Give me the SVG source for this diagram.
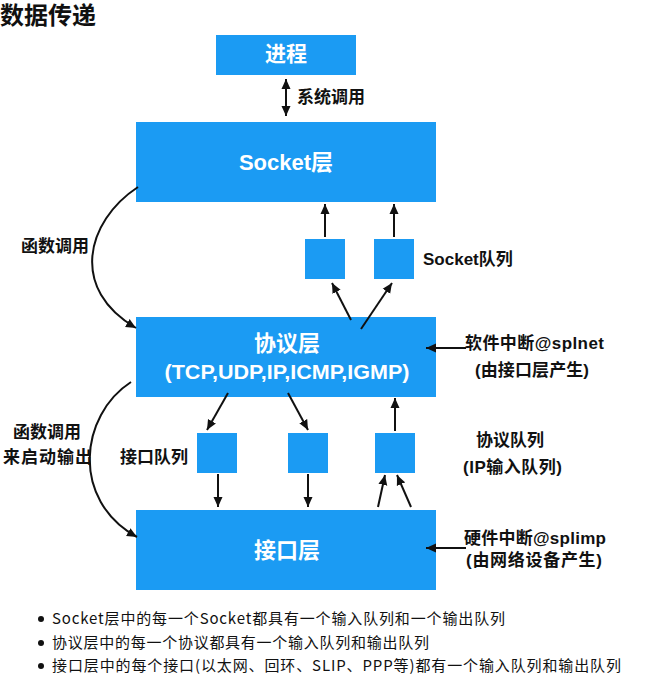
<svg xmlns="http://www.w3.org/2000/svg" width="646" height="685" viewBox="0 0 646 685">
<defs>
<style>
.box{fill:#1b9bf3;}
.wt{fill:#fff;font-family:"Liberation Sans","Noto Sans CJK SC",sans-serif;font-weight:bold;text-anchor:middle;}
.lb{fill:#111;font-family:"Liberation Sans","Noto Sans CJK SC",sans-serif;font-weight:bold;font-size:17px;}
.ln{stroke:#111;stroke-width:2;fill:none;}
.ar{marker-end:url(#ah);}
.bl{fill:#111;font-family:"Noto Sans CJK SC",sans-serif;font-size:15px;}
</style>
<marker id="ah" markerUnits="userSpaceOnUse" markerWidth="11" markerHeight="10" refX="10" refY="5" orient="auto-start-reverse" viewBox="0 0 11 10">
<path d="M0,0.5 L10,5 L0,9.5 z" fill="#111"/>
</marker>
</defs>
<rect width="646" height="685" fill="#fff"/>
<text x="0" y="24" style="font-family:'Liberation Sans','Noto Sans CJK SC',sans-serif;font-weight:bold;font-size:24px;fill:#111">数据传递</text>

<g id="process">
<rect class="box" x="216" y="35" width="140" height="40"/>
<text class="wt" x="286" y="61" font-size="21">进程</text>
</g>
<g id="socket-layer">
<rect class="box" x="136" y="122" width="300" height="80"/>
<text class="wt" x="286" y="170" font-size="22">Socket层</text>
</g>
<g id="socket-queue-1"><rect class="box" x="305" y="239" width="40" height="40"/></g>
<g id="socket-queue-2"><rect class="box" x="374" y="239" width="40" height="40"/></g>
<g id="protocol-layer">
<rect class="box" x="136" y="317" width="300" height="80"/>
<text class="wt" x="287" y="351" font-size="22">协议层</text>
<text class="wt" x="287" y="379" font-size="20" textLength="245" lengthAdjust="spacingAndGlyphs">(TCP,UDP,IP,ICMP,IGMP)</text>
</g>
<g id="if-queue-1"><rect class="box" x="197" y="433" width="40" height="40"/></g>
<g id="if-queue-2"><rect class="box" x="288" y="433" width="40" height="40"/></g>
<g id="proto-queue"><rect class="box" x="375" y="433" width="40" height="40"/></g>
<g id="interface-layer">
<rect class="box" x="136" y="510" width="300" height="80"/>
<text class="wt" x="287" y="558" font-size="22">接口层</text>
</g>

<g id="connectors">
<line class="ln" x1="286" y1="79" x2="286" y2="116" marker-start="url(#ah)" marker-end="url(#ah)"/>
<line class="ln ar" x1="325" y1="237" x2="325" y2="204"/>
<line class="ln ar" x1="394" y1="237" x2="394" y2="204"/>
<line class="ln ar" x1="351" y1="320" x2="332" y2="283"/>
<line class="ln ar" x1="361" y1="329" x2="392" y2="283"/>
<path class="ln ar" d="M138,187 C85,222 70,290 136,328"/>
<path class="ln ar" d="M131,382 C80,415 70,500 137,537"/>
<line class="ln ar" x1="228" y1="393" x2="207" y2="430"/>
<line class="ln ar" x1="288" y1="393" x2="308" y2="430"/>
<line class="ln ar" x1="218" y1="474" x2="218" y2="507"/>
<line class="ln ar" x1="308" y1="474" x2="308" y2="507"/>
<line class="ln ar" x1="395" y1="431" x2="395" y2="398"/>
<line class="ln ar" x1="378" y1="507" x2="385" y2="475"/>
<line class="ln ar" x1="411" y1="507" x2="397" y2="475"/>
<line class="ln ar" x1="466" y1="348" x2="426" y2="348"/>
<line class="ln ar" x1="466" y1="548" x2="426" y2="548"/>
</g>

<g id="labels">
<text class="lb" x="297" y="103">系统调用</text>
<text class="lb" x="21" y="252">函数调用</text>
<text class="lb" x="423" y="265">Socket队列</text>
<text class="lb" x="13" y="438">函数调用</text>
<text class="lb" x="3" y="463" textLength="89">来启动输出</text>
<text class="lb" x="120" y="463">接口队列</text>
<text class="lb" x="465" y="349" textLength="139">软件中断@splnet</text>
<text class="lb" x="475" y="376" textLength="114">(由接口层产生)</text>
<text class="lb" x="476" y="446">协议队列</text>
<text class="lb" x="463" y="473" textLength="99">(IP输入队列)</text>
<text class="lb" x="464" y="544" textLength="142">硬件中断@splimp</text>
<text class="lb" x="466" y="566" textLength="136">(由网络设备产生)</text>
</g>

<g id="notes">
<circle cx="41" cy="619" r="3" fill="#111"/>
<circle cx="41" cy="643" r="3" fill="#111"/>
<circle cx="41" cy="666" r="3" fill="#111"/>
<text class="bl" x="52" y="624" textLength="453">Socket层中的每一个Socket都具有一个输入队列和一个输出队列</text>
<text class="bl" x="52" y="648" textLength="377">协议层中的每一个协议都具有一个输入队列和输出队列</text>
<text class="bl" x="52" y="671" textLength="569">接口层中的每个接口(以太网、回环、SLIP、PPP等)都有一个输入队列和输出队列</text>
</g>
</svg>
